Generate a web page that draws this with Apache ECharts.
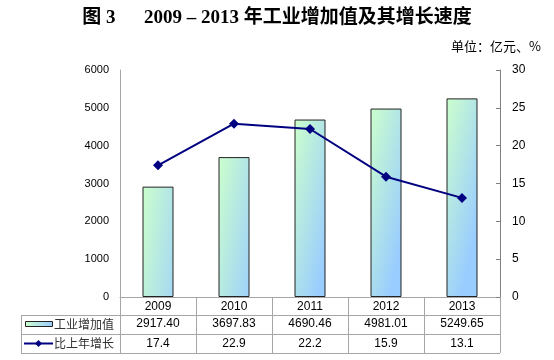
<!DOCTYPE html>
<html><head><meta charset="utf-8">
<script src="https://cdn.jsdelivr.net/npm/echarts@6/dist/echarts.min.js"></script>
<style>html,body{margin:0;padding:0;background:#fff}#c{width:554px;height:360px}</style>
</head><body><div id="c"></div>
<script>
var years = ['2009','2010','2011','2012','2013'];
var addedValue = [2917.40, 3697.83, 4690.46, 4981.01, 5249.65];
var growth = [17.4, 22.9, 22.2, 15.9, 13.1];
var leftTicks = [0, 6000, 1000];
var rightTicks = [0, 30, 5];
var barName = '工业增加值';
var lineName = '比上年增长';

var chart = echarts.init(document.getElementById('c'));
var G = {l:120, r:500, t:70, b:297};
var rows = [315, 334, 353];
var tableLeft = 21;
var lineCol = '#A6A6A6';
var grad = function(){ return new echarts.graphic.LinearGradient(0,0,1.9,0.07,[{offset:0,color:'#CCFFCC'},{offset:1,color:'#99CCFF'}]); };
var txt = {fontFamily:'Liberation Sans, Arial, sans-serif', fontSize:12, color:'#000'};
var graphics = [
  {type:'line', shape:{x1:tableLeft,y1:rows[0]+0.5,x2:G.r,y2:rows[0]+0.5}, style:{stroke:lineCol,lineWidth:1}},
  {type:'line', shape:{x1:tableLeft,y1:rows[1]+0.5,x2:G.r,y2:rows[1]+0.5}, style:{stroke:lineCol,lineWidth:1}},
  {type:'line', shape:{x1:tableLeft,y1:rows[2]+0.5,x2:G.r,y2:rows[2]+0.5}, style:{stroke:lineCol,lineWidth:1}},
  {type:'line', shape:{x1:tableLeft+0.5,y1:rows[0],x2:tableLeft+0.5,y2:rows[2]}, style:{stroke:lineCol,lineWidth:1}},
  {type:'line', shape:{x1:G.l+0.5,y1:rows[0],x2:G.l+0.5,y2:rows[2]}, style:{stroke:lineCol,lineWidth:1}},
  {type:'rect', shape:{x:25.5,y:321.5,width:27,height:5}, style:{fill:new echarts.graphic.LinearGradient(0,0,1,0,[{offset:0,color:'#CCFFCC'},{offset:1,color:'#99CCFF'}]),stroke:'#222',lineWidth:1}},
  {type:'text', style:{x:54,y:324.5,text:barName,fontFamily:'Noto Sans CJK SC',fontSize:12,fill:'#333',verticalAlign:'middle'}},
  {type:'line', shape:{x1:24,y1:343.5,x2:53,y2:343.5}, style:{stroke:'#000080',lineWidth:2}},
  {type:'polygon', shape:{points:[[38.5,340],[42,343.5],[38.5,347],[35,343.5]]}, style:{fill:'#000080'}},
  {type:'text', style:{x:54,y:343.5,text:lineName,fontFamily:'Noto Sans CJK SC',fontSize:12,fill:'#333',verticalAlign:'middle'}}
];

chart.setOption({
  animation:false,
  title:[
    {text:'图 3　  2009 – 2013 年工业增加值及其增长速度', left:'center', top:4,
     textStyle:{fontFamily:'Liberation Serif, Noto Sans CJK SC', fontWeight:'bold', fontSize:19, color:'#000'}},
    {text:'单位：亿元、%', right:8, top:35,
     textStyle:{fontFamily:'Noto Sans CJK SC', fontWeight:'normal', fontSize:13, color:'#000'}}
  ],
  grid:{left:G.l, right:554-G.r, top:G.t, bottom:360-G.b},
  xAxis:{type:'category', data:years, boundaryGap:true,
    axisLine:{lineStyle:{color:lineCol}},
    axisTick:{show:true, length:rows[2]-G.b, lineStyle:{color:lineCol}},
    axisLabel:{margin:2, interval:0,
      formatter:function(v,i){ return '{y|'+v+'}\n{a|'+addedValue[i].toFixed(2)+'}\n{b|'+growth[i].toFixed(1)+'}'; },
      rich:{y:Object.assign({lineHeight:15},txt), a:Object.assign({lineHeight:20},txt), b:Object.assign({lineHeight:19},txt)}
    }
  },
  yAxis:[
    {type:'value', min:leftTicks[0], max:leftTicks[1], interval:leftTicks[2], position:'left',
     axisLine:{show:true, lineStyle:{color:lineCol}}, axisTick:{show:false}, splitLine:{show:false},
     axisLabel:{margin:11, fontSize:11, fontFamily:txt.fontFamily, color:'#000', formatter:function(v){return String(v);}}},
    {type:'value', min:rightTicks[0], max:rightTicks[1], interval:rightTicks[2], position:'right',
     axisLine:{show:true, lineStyle:{color:'#808080'}}, axisTick:{show:true, inside:true, length:4, lineStyle:{color:'#808080'}}, splitLine:{show:false},
     axisLabel:{margin:12, fontSize:12, fontFamily:txt.fontFamily, color:'#000', formatter:function(v){return String(v);}}}
  ],
  series:[
    {name:barName, type:'bar', yAxisIndex:0, data:addedValue, barWidth:31,
     itemStyle:{color:grad(), borderColor:'#222', borderWidth:1}},
    {name:lineName, type:'line', yAxisIndex:1, data:growth, symbol:'diamond', symbolSize:10,
     lineStyle:{color:'#000080', width:2}, itemStyle:{color:'#000080'}}
  ],
  graphic:graphics
});
</script></body></html>
